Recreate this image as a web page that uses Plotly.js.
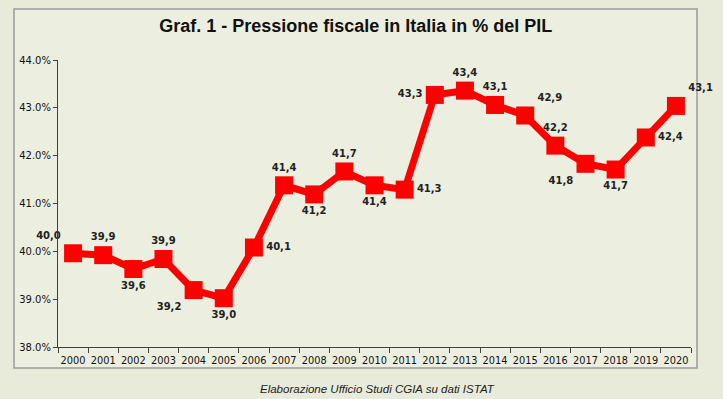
<!DOCTYPE html>
<html>
<head>
<meta charset="utf-8">
<script src="https://cdn.plot.ly/plotly-3.0.1.min.js"></script>
<style>
html,body{margin:0;padding:0;background:#e8ebda;}
#chart{width:723px;height:399px;}
</style>
</head>
<body>
<div id="chart"></div>
<script>
const years = ["2000","2001","2002","2003","2004","2005","2006","2007","2008","2009","2010","2011","2012","2013","2014","2015","2016","2017","2018","2019","2020"];
const values = [39.96,39.92,39.63,39.84,39.19,39.02,40.08,41.38,41.19,41.67,41.38,41.29,43.27,43.36,43.06,42.84,42.21,41.83,41.71,42.38,43.04];
const labels = ["40,0","39,9","39,6","39,9","39,2","39,0","40,1","41,4","41,2","41,7","41,4","41,3","43,3","43,4","43,1","42,9","42,2","41,8","41,7","42,4","43,1"];
const labelPos = ["top left","top center","bottom center","top center","bottom left","bottom center","middle right","top center","bottom center","top center","bottom center","middle right","middle left","top center","top center","top right","top center","bottom left","bottom center","middle right","top right"];
const yTicks = [38,39,40,41,42,43,44];
const yTickText = ["38.0%","39.0%","40.0%","41.0%","42.0%","43.0%","44.0%"];

const trace = {
  x: years, y: values, text: labels,
  type: "scatter", mode: "lines+markers+text",
  line: {color: "#ff0000", width: 7},
  marker: {symbol: "square", size: 18, color: "#ff0000"},
  textposition: labelPos,
  textfont: {family: "DejaVu Sans", size: 10, color: "#222222", weight: "bold"},
  cliponaxis: false, hoverinfo: "none"
};

const layout = {
  width: 723, height: 399,
  margin: {l: 58, r: 32, t: 60, b: 52},
  paper_bgcolor: "#e8ebda",
  plot_bgcolor: "#ffffff",
  showlegend: false,
  title: {text: "Graf. 1 - Pressione fiscale in Italia in % del PIL",
    x: 0.492, xanchor: "center", y: 0.935, yanchor: "middle",
    font: {family: "Liberation Sans Narrow, Liberation Sans, Arial", size: 18, color: "#111111", weight: "bold"}},
  xaxis: {type: "category", tickson: "boundaries", range: [-0.5, 20.5],
    showline: true, linecolor: "#404040", linewidth: 1,
    ticks: "outside", ticklen: 5, tickcolor: "#404040", tickangle: 0,
    ticklabelstandoff: 4,
    showgrid: false, zeroline: false, fixedrange: true,
    tickfont: {family: "DejaVu Sans", size: 9.8, color: "#111111"}},
  yaxis: {range: [38, 44], tickvals: yTicks, ticktext: yTickText,
    showline: true, linecolor: "#404040", linewidth: 1,
    ticks: "outside", ticklen: 4, tickcolor: "#404040",
    showgrid: false, zeroline: false, fixedrange: true,
    tickfont: {family: "DejaVu Sans", size: 10, color: "#111111"}},
  shapes: [
    {type: "rect", xref: "paper", yref: "paper", layer: "below",
     x0: -0.0695, x1: 1.0095, y0: -0.0732, y1: 1.178,
     line: {color: "#9a9a9a", width: 1.5}, fillcolor: "#ecefdf"}
  ],
  annotations: [
    {text: "Elaborazione Ufficio Studi CGIA su dati ISTAT", xref: "paper", yref: "paper",
     x: 0.504, y: -0.146, xanchor: "center", yanchor: "middle", showarrow: false,
     font: {family: "Liberation Sans Narrow, Liberation Sans, Arial", size: 11.5, color: "#222222", style: "italic"}}
  ]
};

Plotly.newPlot("chart", [trace], layout, {displayModeBar: false, staticPlot: true});
</script>
</body>
</html>
